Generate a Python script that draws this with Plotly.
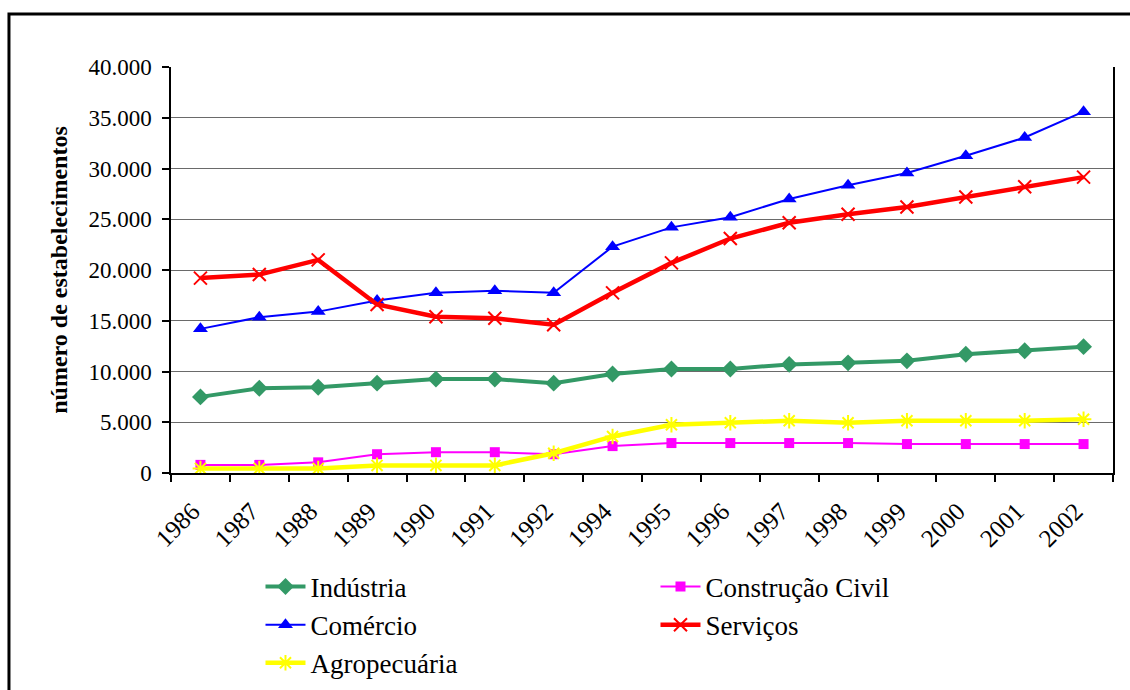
import plotly.graph_objects as go

years = ["1986", "1987", "1988", "1989", "1990", "1991", "1992", "1994",
         "1995", "1996", "1997", "1998", "1999", "2000", "2001", "2002"]

industria = [7500, 8350, 8450, 8850, 9250, 9250, 8850, 9750,
             10250, 10250, 10700, 10850, 11050, 11700, 12050, 12450]
construcao = [800, 800, 1050, 1850, 2050, 2050, 1850, 2650,
              2950, 2950, 2950, 2950, 2850, 2850, 2850, 2850]
comercio = [14200, 15350, 15900, 17000, 17750, 17950, 17750, 22300,
            24200, 25200, 27000, 28350, 29550, 31250, 33050, 35600]
servicos = [19200, 19550, 21000, 16600, 15400, 15250, 14600, 17750,
            20700, 23100, 24650, 25500, 26200, 27200, 28200, 29150]
agropecuaria = [450, 450, 450, 750, 750, 750, 1950, 3600,
                4750, 4950, 5150, 4950, 5150, 5150, 5150, 5300]

y_ticks = [0, 5000, 10000, 15000, 20000, 25000, 30000, 35000, 40000]
y_tick_labels = ["0", "5.000", "10.000", "15.000", "20.000", "25.000",
                 "30.000", "35.000", "40.000"]

FONT = "Times New Roman, Liberation Serif, serif"

fig = go.Figure()
fig.add_trace(go.Scatter(x=years, y=industria, name="Indústria", mode="lines+markers",
                         line=dict(color="#339966", width=4),
                         marker=dict(symbol="diamond", size=13, color="#339966")))
fig.add_trace(go.Scatter(x=years, y=construcao, name="Construção Civil", mode="lines+markers",
                         line=dict(color="#FF00FF", width=2),
                         marker=dict(symbol="square", size=10, color="#FF00FF")))
fig.add_trace(go.Scatter(x=years, y=comercio, name="Comércio", mode="lines+markers",
                         line=dict(color="#0000FF", width=2),
                         marker=dict(symbol="triangle-up", size=13, color="#0000FF")))
fig.add_trace(go.Scatter(x=years, y=servicos, name="Serviços", mode="lines+markers",
                         line=dict(color="#FF0000", width=4.5),
                         marker=dict(symbol="x-thin-open", size=13, color="#FF0000",
                                     line=dict(width=2, color="#FF0000"))))
fig.add_trace(go.Scatter(x=years, y=agropecuaria, name="Agropecuária", mode="lines+markers",
                         line=dict(color="#FFFF00", width=4.5),
                         marker=dict(symbol="asterisk-open", size=13, color="#FFFF00",
                                     line=dict(width=2, color="#FFFF00"))))

# outer frame (chart area border)
fig.add_shape(type="rect", xref="paper", yref="paper",
              x0=-0.172, x1=1.05, y0=-0.6, y1=1.1305,
              line=dict(color="black", width=3), fillcolor="rgba(0,0,0,0)", layer="below")

fig.update_layout(
    width=1130, height=690,
    margin=dict(l=171, r=17, t=67, b=217, autoexpand=False),
    paper_bgcolor="white", plot_bgcolor="white",
    font=dict(family=FONT, color="black", size=23),
    showlegend=True,
    legend=dict(orientation="h", x=0.095, y=-0.2205, xanchor="left", yanchor="top",
                entrywidth=340, entrywidthmode="pixels",
                font=dict(family=FONT, size=27, color="black"),
                tracegroupgap=0, itemwidth=40, bgcolor="rgba(0,0,0,0)"),
    xaxis=dict(type="category", tickson="boundaries", ticks="outside", ticklen=7,
               tickcolor="black", tickwidth=1.5, showline=True, linecolor="black",
               linewidth=1.5, showgrid=False, tickangle=-45, automargin=False,
               ticklabelstandoff=12, ticklabelshift=-8,
               tickfont=dict(family=FONT, size=25, color="black"),
               range=[-0.5, 15.5]),
    yaxis=dict(range=[0, 40000], tickvals=y_ticks, ticktext=y_tick_labels,
               ticks="outside", ticklen=7, tickcolor="black", tickwidth=1.5,
               showline=True, linecolor="black", linewidth=1.5, mirror=True,
               showgrid=True, gridcolor="#6a6a6a", gridwidth=1.2, zeroline=False,
               automargin=False, ticklabelstandoff=6,
               tickfont=dict(family=FONT, size=23, color="black"),
               title=dict(text="<b>número de estabelecimentos</b>", standoff=14,
                          font=dict(family=FONT, size=24, color="black"))),
)

fig.write_html("out.html")
